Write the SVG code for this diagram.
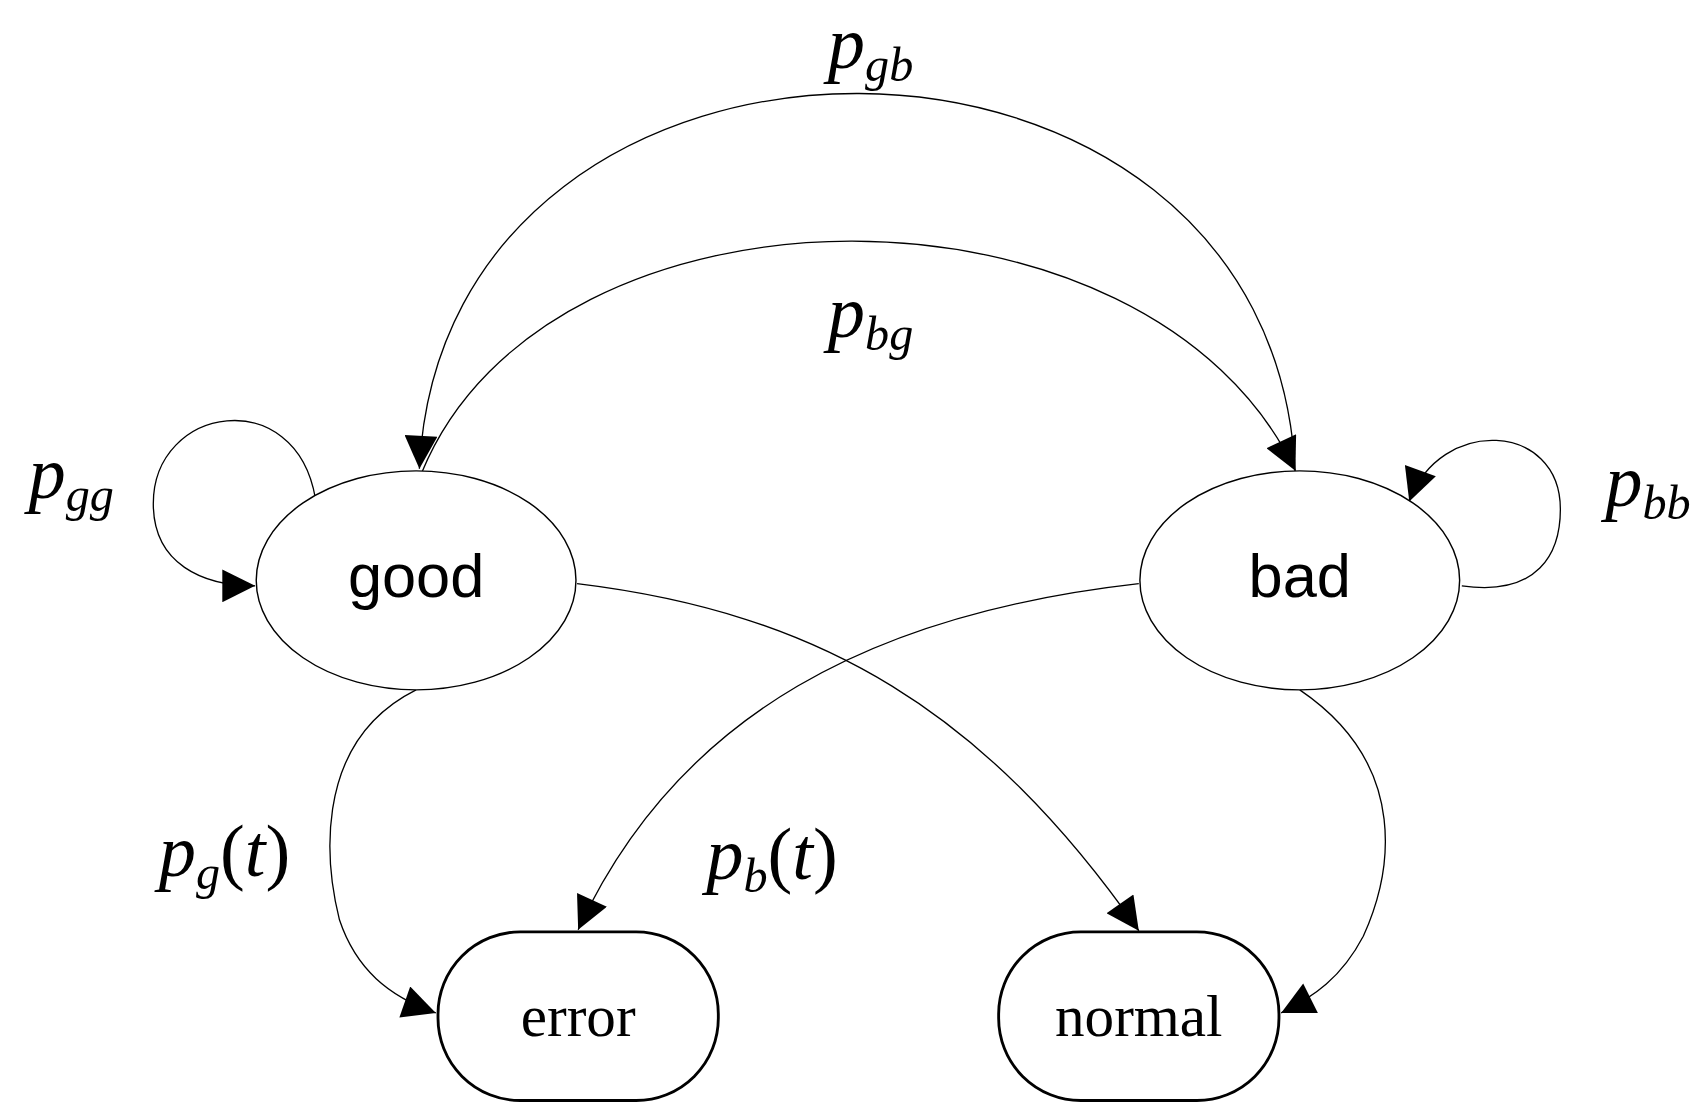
<svg xmlns="http://www.w3.org/2000/svg" width="1708" height="1116" viewBox="0 0 1708 1116">
<style>
.n{fill:#fff;stroke:#000;stroke-width:1.3}
.r{fill:#fff;stroke:#000;stroke-width:2.6}
.e{fill:none;stroke:#000;stroke-width:1.2;marker-end:url(#a)}
.s{font-family:"Liberation Sans",Arial,sans-serif;font-size:56px;text-anchor:middle}
.t{font-family:"Liberation Serif","Times New Roman",serif;font-size:54px;text-anchor:middle}
.m{font-family:"Liberation Serif","Times New Roman",serif;font-style:italic;font-size:68px;text-anchor:middle}
.sub{font-size:44px}
</style>
<defs><marker id="a" viewBox="0 0 10 10" refX="10" refY="5" markerWidth="42" markerHeight="30" markerUnits="userSpaceOnUse" orient="auto"><path d="M0,0L10,5L0,10z"/></marker></defs>
<rect width="1708" height="1116" fill="#fff"/>
<g transform="scale(1.095)">
<g id="edges">
<path class="e" d="M1183,435 C1165,-30 405,-30 383,428"/>
<path class="e" d="M385,432 C500,150 1050,150 1183,430"/>
<path class="e" d="M288,455 C270,350 140,370 140,460 C140,515 185,535 233,535"/>
<path class="e" d="M1335,535 C1405,545 1425,505 1425,465 C1425,385 1315,380 1287,458"/>
<path class="e" d="M527,533 C750,560 900,650 1040,850"/>
<path class="e" d="M1040,533 C800,560 620,650 528,849"/>
<path class="e" d="M380,630 C280,680 300,800 310,840 C325,885 355,910 398,925"/>
<path class="e" d="M1187,630 C1290,700 1270,800 1245,855 C1225,893 1200,910 1170,925"/>
</g>
<g id="labels">
<text class="m" x="795" y="62">p<tspan class="sub" dy="12">gb</tspan></text>
<text class="m" x="795" y="308">p<tspan class="sub" dy="12">bg</tspan></text>
<text class="m" x="65" y="455">p<tspan class="sub" dy="12">gg</tspan></text>
<text class="m" x="1505" y="462">p<tspan class="sub" dy="12">bb</tspan></text>
<text class="m" x="205" y="800">p<tspan class="sub" dy="12">g</tspan><tspan dy="-12" font-style="normal">(</tspan>t<tspan font-style="normal">)</tspan></text>
<text class="m" x="705" y="803">p<tspan class="sub" dy="12">b</tspan><tspan dy="-12" font-style="normal">(</tspan>t<tspan font-style="normal">)</tspan></text>
</g>
<g id="good"><ellipse class="n" cx="380" cy="530" rx="146" ry="100"/><text class="s" x="380" y="545">good</text></g>
<g id="bad"><ellipse class="n" cx="1187" cy="530" rx="146" ry="100"/><text class="s" x="1187" y="545">bad</text></g>
<g id="error"><rect class="r" x="400" y="851" width="256" height="154" rx="75"/><text class="t" x="528" y="946">error</text></g>
<g id="normal"><rect class="r" x="912" y="851" width="256" height="154" rx="75"/><text class="t" x="1040" y="946">normal</text></g>
</g>
</svg>
